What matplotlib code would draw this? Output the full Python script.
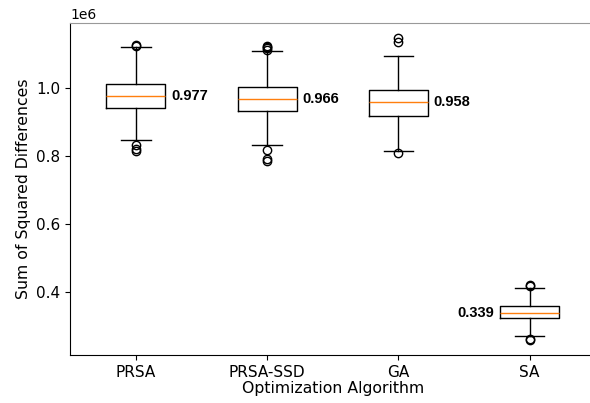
import matplotlib
matplotlib.use('Agg')
import matplotlib.pyplot as plt

# algoritmos y estadisticas de cada caja (valores en unidades de 1e6)
algorithms = ['PRSA', 'PRSA-SSD', 'GA', 'SA']
medians = [0.977, 0.966, 0.958, 0.339]
q1 = [0.941, 0.931, 0.918, 0.323]
q3 = [1.012, 1.001, 0.993, 0.359]
whisker_low = [0.847, 0.831, 0.813, 0.271]
whisker_high = [1.120, 1.108, 1.093, 0.412]
fliers = [
    [1.123, 1.126, 0.831, 0.821, 0.813],
    [1.112, 1.116, 1.120, 1.124, 0.817, 0.792, 0.786],
    [1.133, 1.146, 0.808],
    [0.418, 0.421, 0.262, 0.259],
]

stats = []
for i, name in enumerate(algorithms):
    stats.append({
        'label': name,
        'med': medians[i] * 1e6,
        'q1': q1[i] * 1e6,
        'q3': q3[i] * 1e6,
        'whislo': whisker_low[i] * 1e6,
        'whishi': whisker_high[i] * 1e6,
        'fliers': [v * 1e6 for v in fliers[i]],
    })

fig = plt.figure(figsize=(5.9, 4.03), dpi=100)
ax = fig.add_axes([0.119, 0.119, 0.89, 0.824])
ax.bxp(stats, showfliers=True)

# etiquetas con la mediana
for i, m in enumerate(medians):
    if i < 3:
        ax.text(i + 1.27, m * 1e6, '%.3f' % m, ha='left', va='center',
                fontweight='bold', family='Liberation Sans', fontsize=10.5)
    else:
        ax.text(i + 1 - 0.27, m * 1e6, '%.3f' % m, ha='right', va='center',
                fontweight='bold', family='Liberation Sans', fontsize=10.5)

ax.set_xlabel('Optimization Algorithm', fontsize=11.3, labelpad=1)
ax.set_ylabel('Sum of Squared Differences', fontsize=11.3)
ax.tick_params(labelsize=11)
ax.spines['top'].set_color('#999999')
ax.set_yticks([0.4e6, 0.6e6, 0.8e6, 1.0e6])

fig.savefig('out.png', dpi=100)
